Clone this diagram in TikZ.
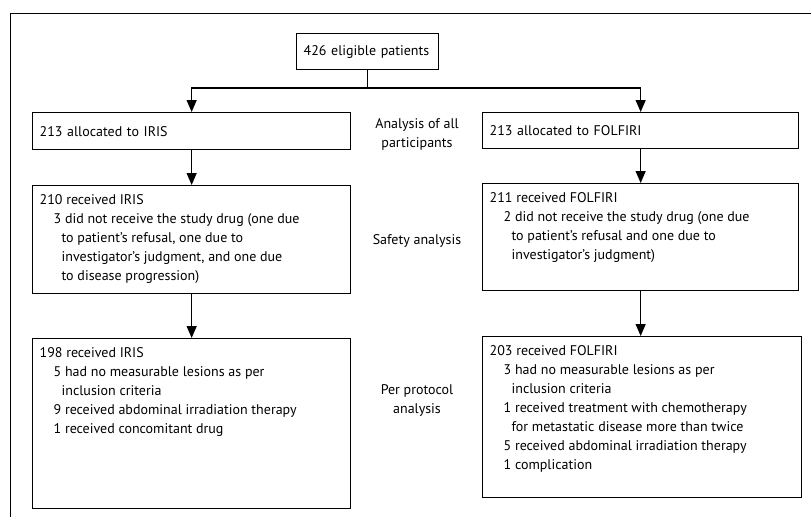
\documentclass[tikz,border=0pt]{standalone}
\usepackage{fontspec}
\setmainfont{PT Sans}
\usetikzlibrary{arrows.meta}
\newcommand{\bxt}[3]{\parbox[c][#2pt][t]{#1pt}{\raggedright\leftskip=7pt\baselineskip=19pt\vspace*{6pt}\strut#3}}
\newcommand{\ia}{\hspace*{14pt}}
\newcommand{\ib}{\hspace*{22pt}}
\begin{document}
\begin{tikzpicture}[x=1pt,y=-1pt,
  font=\fontsize{14}{19}\selectfont,
  frame/.style={line width=1pt},
  box/.style={draw, line width=1.3pt, anchor=north west, inner sep=0pt},
  onebox/.style={draw, line width=1.3pt, anchor=north west, inner ysep=0pt, inner xsep=7pt, align=left},
  lbl/.style={align=center},
  conn/.style={line width=1.3pt},
  arr/.style={line width=1.3pt, -{Triangle[length=12pt,width=10pt]}}
]
\useasboundingbox (0,0) rectangle (811,517);
\coordinate (ftr) at (811,13);
\coordinate (ftl) at (10,13);
\coordinate (fbl) at (10,517);
\draw[frame] (ftr) -- (ftl) -- (fbl);

\node[onebox, text width=128pt, minimum height=36pt] (top) at (296,33) {426 eligible patients};
\node[onebox, text width=304pt, minimum height=37pt] (ai) at (32,112) {213 allocated to IRIS};
\node[onebox, text width=302pt, minimum height=36pt] (af) at (482,112) {213 allocated to FOLFIRI};

\node[box] (si) at (32,185) {\bxt{318}{108}{210 received IRIS\\
\ia 3 did not receive the study drug (one due\\
\ib to patient’s refusal, one due to\\
\ib investigator’s judgment, and one due\\
\ib to disease progression)}};
\node[box] (sf) at (482,183) {\bxt{316}{107}{211 received FOLFIRI\\
\ia 2 did not receive the study drug (one due\\
\ib to patient’s refusal and one due to\\
\ib investigator’s judgment)}};
\node[box] (pi) at (32,338) {\bxt{318}{170}{198 received IRIS\\
\ia 5 had no measurable lesions as per\\
\ib inclusion criteria\\
\ia 9 received abdominal irradiation therapy\\
\ia 1 received concomitant drug}};
\node[box] (pf) at (482,336) {\bxt{319}{161}{203 received FOLFIRI\\
\ia 3 had no measurable lesions as per\\
\ib inclusion criteria\\
\ia 1 received treatment with chemotherapy\\
\ib for metastatic disease more than twice\\
\ia 5 received abdominal irradiation therapy\\
\ia 1 complication}};

\node[lbl] (l1) at (417,134) {Analysis of all\\participants};
\node[lbl] (l2) at (417,241) {Safety analysis};
\node[lbl] (l3) at (417,400) {Per protocol\\analysis};

\coordinate (split) at (top.south |- 0,88);
\draw[conn] (top.south) -- (split);
\draw[arr] (split) -| (ai.north);
\draw[arr] (split) -| (af.north);
\draw[arr] (ai.south) -- (ai.south |- si.north);
\draw[arr] (af.south) -- (af.south |- sf.north);
\draw[arr] (si.south) -- (si.south |- pi.north);
\draw[arr] (sf.south) -- (sf.south |- pf.north);
\end{tikzpicture}
\end{document}
